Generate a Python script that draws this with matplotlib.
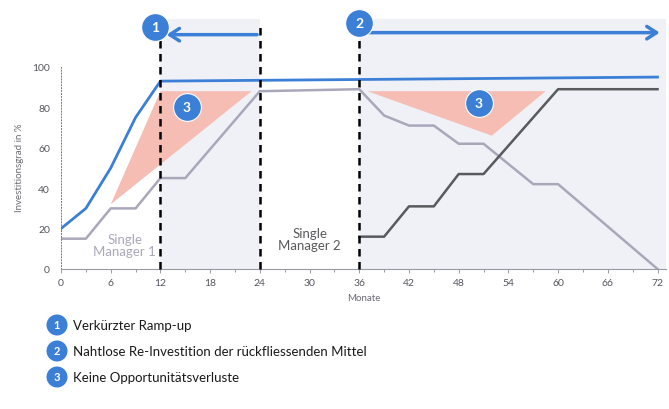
import matplotlib.pyplot as plt
import matplotlib.patches as mpatches

plt.rcParams['font.family'] = ['Lato', 'DejaVu Sans']

# Investitionsgrad pro Monat
blue_x = [0, 3, 6, 9, 12, 72]
blue_y = [20, 30, 50, 75, 93, 95]
m1_x = [0, 3, 6, 9, 12, 15, 24, 36, 39, 42, 45, 48, 51, 57, 60, 72]
m1_y = [15, 15, 30, 30, 45, 45, 88, 89, 76, 71, 71, 62, 62, 42, 42, 0]
m2_x = [36, 39, 42, 45, 48, 51, 60, 72]
m2_y = [16, 16, 31, 31, 47, 47, 89, 89]

# Opportunitaetsverluste (Dreiecke)
loss1 = [(6, 32), (12, 88), (23, 88)]
loss2 = [(37, 88), (58.5, 88), (52, 66)]

x_ticks = list(range(0, 73, 6))
y_ticks = [0, 20, 40, 60, 80, 100]
legend_items = ['Verkürzter Ramp-up',
                'Nahtlose Re-Investition der rückfliessenden Mittel',
                'Keine Opportunitätsverluste']

BLUE = '#3b7fd6'
GREY1 = '#a9a8ba'
GREY2 = '#5a5a5e'
PINK = '#f5bdb4'
SHADE = '#eff1f6'
TICKC = '#8a8a9a'

fig = plt.figure(figsize=(6.69, 4.10), dpi=100)
ax = fig.add_axes([0.0912, 0.3415, 0.904, 0.6405])
ax.set_xlim(0, 73)
ax.set_ylim(0, 130)

# hinterlegte Bereiche
ax.axvspan(12, 24, ymin=0, ymax=124 / 130, color=SHADE, lw=0, zorder=0)
ax.axvspan(36, 73, ymin=0, ymax=124 / 130, color=SHADE, lw=0, zorder=0)

ax.add_patch(mpatches.Polygon(loss1, closed=True, color=PINK, lw=0, zorder=1))
ax.add_patch(mpatches.Polygon(loss2, closed=True, color=PINK, lw=0, zorder=1))

ax.plot(m1_x, m1_y, color=GREY1, lw=1.8, zorder=2)
ax.plot(m2_x, m2_y, color=GREY2, lw=1.8, zorder=2)
ax.plot(blue_x, blue_y, color=BLUE, lw=2.0, zorder=3)

# gestrichelte Trennlinien
for xv, top in [(12, 115), (24, 122), (36, 116)]:
    ax.plot([xv, xv], [0, top], color='black', lw=1.8, ls=(0, (3, 2.2)),
            zorder=4, clip_on=False)

# Pfeile oben
ax.annotate('', xy=(12.4, 116), xytext=(24, 116),
            arrowprops=dict(arrowstyle='->,head_length=0.7,head_width=0.45',
                            color=BLUE, lw=2.5), annotation_clip=False)
ax.annotate('', xy=(72.6, 117), xytext=(36, 117),
            arrowprops=dict(arrowstyle='->,head_length=0.7,head_width=0.45',
                            color=BLUE, lw=2.5), annotation_clip=False)

def badge(x, y, num, size=20, fs=10):
    ax.plot([x], [y], 'o', color=BLUE, ms=size, mec='white', mew=0.8,
            zorder=6, clip_on=False)
    ax.text(x, y, num, color='white', fontsize=fs, fontweight='bold',
            ha='center', va='center', zorder=7, clip_on=False)

badge(11.3, 120, '1')
badge(36, 122, '2')
badge(15.2, 80, '3')
badge(50.4, 82, '3')

ax.text(7.7, 12, 'Single\nManager 1', color=GREY1, fontsize=9.5,
        ha='center', va='center', linespacing=1.0)
ax.text(30, 15, 'Single\nManager 2', color=GREY2, fontsize=9.5,
        ha='center', va='center', linespacing=1.0)

ax.set_xticks(x_ticks)
ax.set_xticks(range(0, 73, 3), minor=True)
ax.set_yticks(y_ticks)
ax.tick_params(axis='both', colors=TICKC, labelsize=7.5, length=3, width=0.6)
ax.tick_params(axis='x', which='minor', colors=TICKC, length=2, width=0.6)
ax.tick_params(axis='y', length=0, pad=8)
for t in ax.get_xticklabels() + ax.get_yticklabels():
    t.set_color('#555560')

for s in ['top', 'right']:
    ax.spines[s].set_visible(False)
ax.spines['left'].set_linestyle((0, (1, 2)))
ax.spines['left'].set_color('#777780')
ax.spines['left'].set_linewidth(0.7)
ax.spines['left'].set_bounds(0, 100)
ax.spines['bottom'].set_color('#9a9aa5')
ax.spines['bottom'].set_linewidth(0.8)

ax.set_xlabel('Monate', fontsize=7, color='#6a6a75', labelpad=4)
ax.set_ylabel('Investitionsgrad in %', fontsize=7, color='#6a6a75', labelpad=2)
ax.yaxis.set_label_coords(-0.062, 0.39)

# Legende unten
for i, label in enumerate(legend_items):
    yy = (410 - (326 + i * 26)) / 410
    fig.text(57 / 669, yy, str(i + 1), color='white', fontsize=8,
             fontweight='bold', ha='center', va='center',
             bbox=dict(boxstyle='circle,pad=0.45', fc=BLUE, ec='none'))
    fig.text(73 / 669, yy, label, color='#1a1a1a', fontsize=9.5,
             ha='left', va='center')

fig.savefig('out.png', dpi=100)
